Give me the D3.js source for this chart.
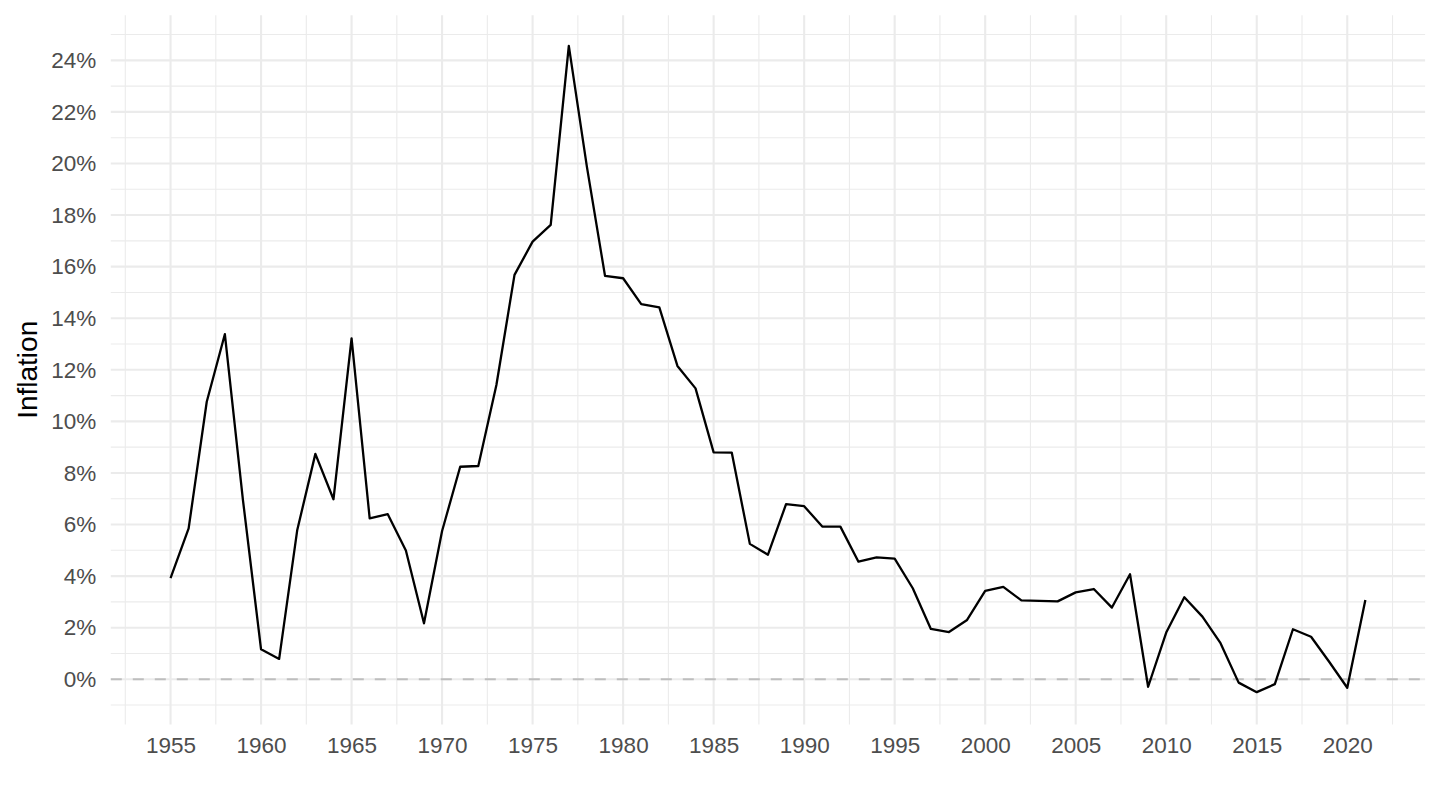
<!DOCTYPE html>
<html lang="en">
<head>
    <meta charset="UTF-8">
    <title>Inflation</title>
    <style>
        body {
            margin: 0;
            background: #fff;
            font-family: "Liberation Sans", Arial, sans-serif;
        }
    </style>
</head>
<body>

<div id="chart"></div>

<script src="https://d3js.org/d3.v7.min.js"></script>
<script>
    // Annual inflation, %
    const years = [
        1955, 1956, 1957, 1958, 1959, 1960, 1961, 1962, 1963, 1964,
        1965, 1966, 1967, 1968, 1969, 1970, 1971, 1972, 1973, 1974,
        1975, 1976, 1977, 1978, 1979, 1980, 1981, 1982, 1983, 1984,
        1985, 1986, 1987, 1988, 1989, 1990, 1991, 1992, 1993, 1994,
        1995, 1996, 1997, 1998, 1999, 2000, 2001, 2002, 2003, 2004,
        2005, 2006, 2007, 2008, 2009, 2010, 2011, 2012, 2013, 2014,
        2015, 2016, 2017, 2018, 2019, 2020, 2021
    ];
    const inflation = [
        3.92, 5.85, 10.76, 13.38, 6.95, 1.16, 0.79, 5.79, 8.74, 6.98,
        13.22, 6.24, 6.40, 4.99, 2.17, 5.75, 8.24, 8.27, 11.41, 15.68,
        16.97, 17.62, 24.56, 19.87, 15.64, 15.55, 14.55, 14.42, 12.15, 11.28,
        8.80, 8.79, 5.25, 4.83, 6.79, 6.71, 5.92, 5.92, 4.56, 4.73,
        4.68, 3.53, 1.95, 1.83, 2.30, 3.43, 3.58, 3.06, 3.04, 3.02,
        3.37, 3.50, 2.78, 4.07, -0.29, 1.81, 3.18, 2.43, 1.40, -0.13,
        -0.50, -0.19, 1.94, 1.65, 0.68, -0.33, 3.07
    ];

    const xMajor = [1955, 1960, 1965, 1970, 1975, 1980, 1985, 1990, 1995, 2000, 2005, 2010, 2015, 2020];
    const xMinor = [1952.5, 1957.5, 1962.5, 1967.5, 1972.5, 1977.5, 1982.5, 1987.5, 1992.5, 1997.5,
                    2002.5, 2007.5, 2012.5, 2017.5, 2022.5];
    const yMajor = [0, 2, 4, 6, 8, 10, 12, 14, 16, 18, 20, 22, 24];
    const yMinor = [-1, 1, 3, 5, 7, 9, 11, 13, 15, 17, 19, 21, 23, 25];

    const width = 1440;
    const height = 810;
    const panel = { left: 110.8, right: 1425.1, top: 15.2, bottom: 724.4 };

    const svg = d3.select("#chart")
        .append("svg")
        .attr("width", width)
        .attr("height", height);

    // ggplot-like 5% expansion on both axes
    const x = d3.scaleLinear()
        .domain([1951.7, 2024.3])
        .range([panel.left, panel.right]);
    const y = d3.scaleLinear()
        .domain([-1.75, 25.75])
        .range([panel.bottom, panel.top]);

    const grid = svg.append("g");

    // minor grid first, majors on top
    grid.selectAll("line.yminor")
        .data(yMinor)
        .enter()
        .append("line")
        .attr("class", "yminor")
        .attr("x1", panel.left).attr("x2", panel.right)
        .attr("y1", d => y(d)).attr("y2", d => y(d))
        .attr("stroke", "#ebebeb")
        .attr("stroke-width", 1.1);

    grid.selectAll("line.xminor")
        .data(xMinor)
        .enter()
        .append("line")
        .attr("class", "xminor")
        .attr("x1", d => x(d)).attr("x2", d => x(d))
        .attr("y1", panel.top).attr("y2", panel.bottom)
        .attr("stroke", "#ebebeb")
        .attr("stroke-width", 1.1);

    grid.selectAll("line.ymajor")
        .data(yMajor)
        .enter()
        .append("line")
        .attr("class", "ymajor")
        .attr("x1", panel.left).attr("x2", panel.right)
        .attr("y1", d => y(d)).attr("y2", d => y(d))
        .attr("stroke", "#ebebeb")
        .attr("stroke-width", 2.1);

    grid.selectAll("line.xmajor")
        .data(xMajor)
        .enter()
        .append("line")
        .attr("class", "xmajor")
        .attr("x1", d => x(d)).attr("x2", d => x(d))
        .attr("y1", panel.top).attr("y2", panel.bottom)
        .attr("stroke", "#ebebeb")
        .attr("stroke-width", 2.1);

    // zero reference line
    svg.append("line")
        .attr("x1", panel.left).attr("x2", panel.right)
        .attr("y1", y(0)).attr("y2", y(0))
        .attr("stroke", "#bebebe")
        .attr("stroke-width", 2.2)
        .attr("stroke-dasharray", "11,11");

    // series
    const line = d3.line()
        .x((d, i) => x(years[i]))
        .y(d => y(d));

    svg.append("path")
        .datum(inflation)
        .attr("fill", "none")
        .attr("stroke", "#000")
        .attr("stroke-width", 2.3)
        .attr("stroke-linejoin", "round")
        .attr("d", line);

    // axes (text only, theme_minimal style)
    const yAxis = svg.append("g")
        .attr("transform", `translate(${panel.left - 14.5},0)`)
        .call(d3.axisLeft(y).tickValues(yMajor).tickSize(0).tickPadding(0).tickFormat(d => d + "%"));
    yAxis.select(".domain").remove();
    yAxis.selectAll("text")
        .attr("font-family", "'Liberation Sans', Arial, sans-serif")
        .attr("font-size", 22.5)
        .attr("fill", "#4d4d4d");

    const xAxis = svg.append("g")
        .attr("transform", `translate(0,${panel.bottom + 13})`)
        .call(d3.axisBottom(x).tickValues(xMajor).tickSize(0).tickPadding(0).tickFormat(d3.format("d")));
    xAxis.select(".domain").remove();
    xAxis.selectAll("text")
        .attr("font-family", "'Liberation Sans', Arial, sans-serif")
        .attr("font-size", 22.5)
        .attr("fill", "#4d4d4d");

    svg.append("text")
        .attr("transform", `translate(37,${(panel.top + panel.bottom) / 2}) rotate(-90)`)
        .attr("text-anchor", "middle")
        .attr("font-family", "'Liberation Sans', Arial, sans-serif")
        .attr("font-size", 28)
        .attr("fill", "#000")
        .text("Inflation");
</script>

</body>
</html>
